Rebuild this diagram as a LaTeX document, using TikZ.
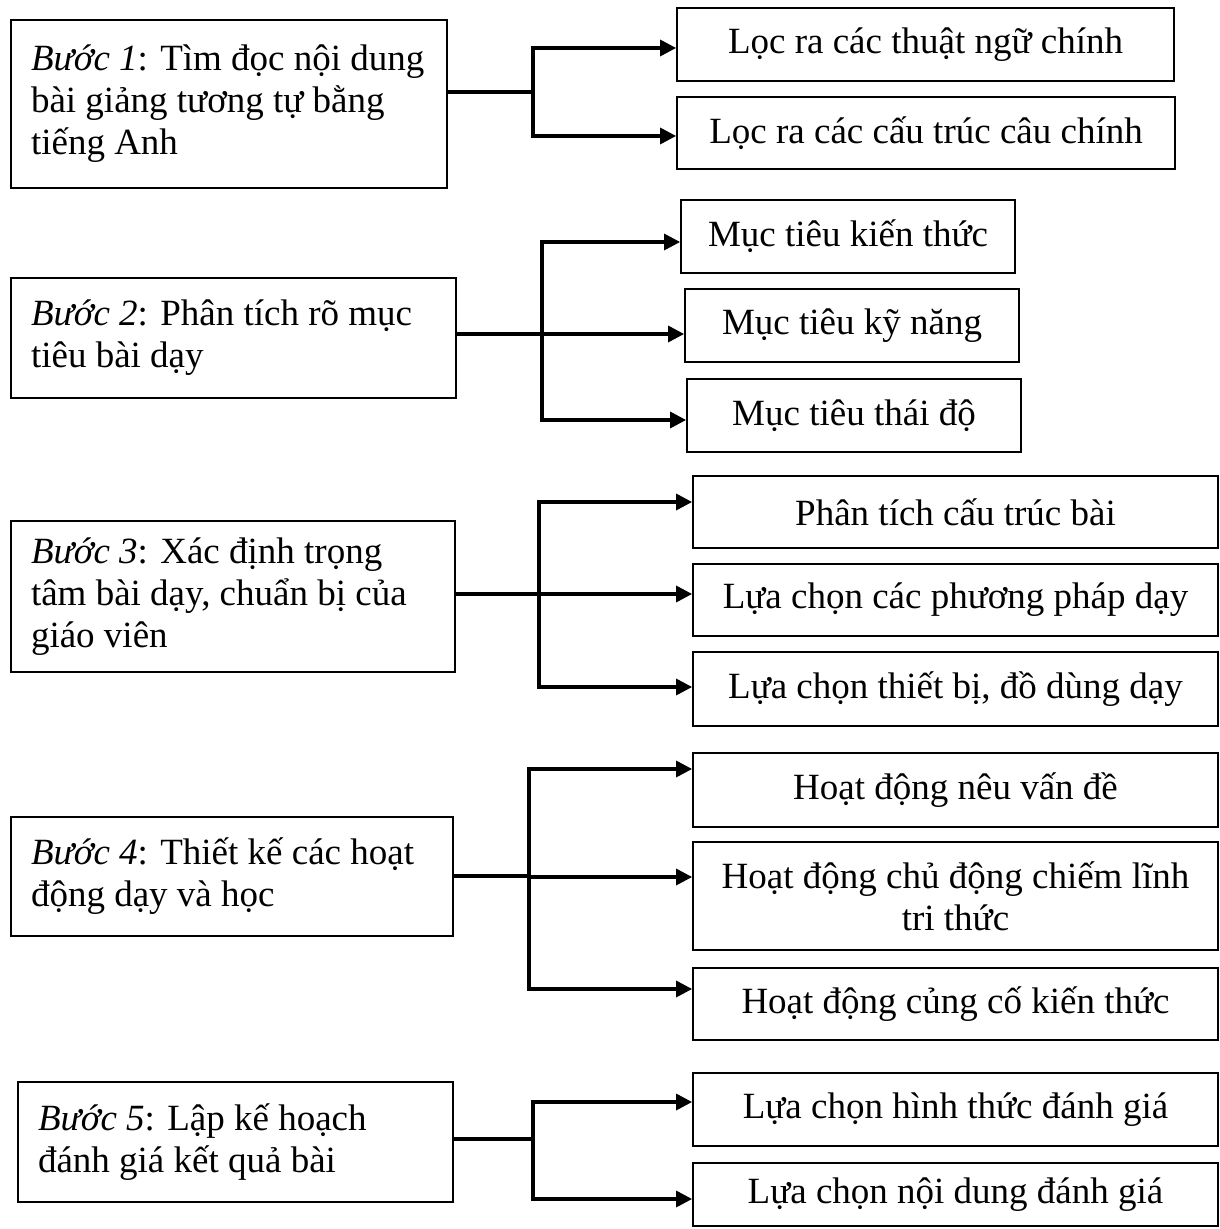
\documentclass[tikz,border=0pt]{standalone}
\usepackage{fontspec}
\setmainfont{Liberation Serif}
\usepackage{tikz}
\usetikzlibrary{arrows.meta}

\begin{document}
\begin{tikzpicture}[
	x=0.5pt, y=-0.5pt,
	StepBox/.style={draw, line width=0.9pt, inner xsep=10pt, inner ysep=0pt, align=flush left,
		font=\fontsize{18.5}{21}\selectfont},
	TaskBox/.style={draw, line width=0.9pt, inner sep=0pt, align=center,
		font=\fontsize{18.5}{21}\selectfont},
	Links/.style={line width=1.6pt, line cap=rect},
	Arrows/.style={line width=1.6pt, -{Triangle[length=8pt, width=8pt]}}
	]
	\useasboundingbox (0,0) rectangle (1219,1229);
	
	% left column: the five steps
	\node[StepBox, text width=198pt, minimum height=84pt] (s1) at (229,104)
	{\mbox{\textit{Bước 1}: Tìm đọc nội dung}\\ \mbox{bài giảng tương tự bằng}\\ tiếng Anh};
	\node[StepBox, text width=202.5pt, minimum height=60pt] (s2) at (233.5,338)
	{\mbox{\textit{Bước 2}: Phân tích rõ mục}\\ \mbox{tiêu bài dạy}};
	\node[StepBox, text width=202pt, minimum height=75.5pt] (s3) at (233,596.5)
	{\mbox{\textit{Bước 3}: Xác định trọng}\\ \mbox{tâm bài dạy, chuẩn bị của}\\ giáo viên};
	\node[StepBox, text width=201pt, minimum height=59.5pt] (s4) at (232,876.5)
	{\mbox{\textit{Bước 4}: Thiết kế các hoạt}\\ \mbox{động dạy và học}};
	\node[StepBox, text width=197.5pt, minimum height=60pt] (s5) at (235.5,1142)
	{\mbox{\textit{Bước 5}: Lập kế hoạch}\\ \mbox{đánh giá kết quả bài}};
	
	% right column
	\node[TaskBox, minimum width=248.5pt, minimum height=36.5pt] (r1a) at (925.5,44.5) {Lọc ra các thuật ngữ chính};
	\node[TaskBox, minimum width=249pt, minimum height=36pt] (r1b) at (926,133) {Lọc ra các cấu trúc câu chính};
	
	\node[TaskBox, minimum width=167pt, minimum height=36.5pt] (r2a) at (848,236.5) {Mục tiêu kiến thức};
	\node[TaskBox, minimum width=167pt, minimum height=36.5pt] (r2b) at (852,325.5) {Mục tiêu kỹ năng};
	\node[TaskBox, minimum width=167pt, minimum height=36.5pt] (r2c) at (854,415.5) {Mục tiêu thái độ};
	
	\node[TaskBox, minimum width=262.5pt, minimum height=36pt] (r3a) at (955.5,512) {Phân tích cấu trúc bài};
	\node[TaskBox, minimum width=262.5pt, minimum height=36pt] (r3b) at (955.5,600) {Lựa chọn các phương pháp dạy};
	\node[TaskBox, minimum width=262.5pt, minimum height=37pt] (r3c) at (955.5,689) {Lựa chọn thiết bị, đồ dùng dạy};
	
	\node[TaskBox, minimum width=262.5pt, minimum height=37pt] (r4a) at (955.5,790) {Hoạt động nêu vấn đề};
	\node[TaskBox, minimum width=262.5pt, minimum height=54pt] (r4b) at (955.5,896) {Hoạt động chủ động chiếm lĩnh\\ tri thức};
	\node[TaskBox, minimum width=262.5pt, minimum height=36pt] (r4c) at (955.5,1004) {Hoạt động củng cố kiến thức};
	
	\node[TaskBox, minimum width=262.5pt, minimum height=36.5pt] (r5a) at (955.5,1109.5) {Lựa chọn hình thức đánh giá};
	\node[TaskBox, minimum width=262.5pt, minimum height=31.5pt] (r5b) at (955.5,1194.5) {Lựa chọn nội dung đánh giá};
	
	% branch points
	\coordinate (J1) at (533,92);
	\coordinate (J1a) at (533,48);
	\coordinate (J1b) at (533,136);
	
	\coordinate (J2) at (542,334);
	\coordinate (J2a) at (542,242);
	\coordinate (J2b) at (542,334);
	\coordinate (J2c) at (542,420);
	
	\coordinate (J3) at (539,594);
	\coordinate (J3a) at (539,502);
	\coordinate (J3b) at (539,594);
	\coordinate (J3c) at (539,687);
	
	\coordinate (J4) at (529,876);
	\coordinate (J4a) at (529,769);
	\coordinate (J4b) at (529,877);
	\coordinate (J4c) at (529,989);
	
	\coordinate (J5) at (533,1139);
	\coordinate (J5a) at (533,1102);
	\coordinate (J5b) at (533,1199);
	
	% trunks and spines
	\foreach \s/\j/\t/\b in {s1/J1/J1a/J1b, s2/J2/J2a/J2c, s3/J3/J3a/J3c, s4/J4/J4a/J4c, s5/J5/J5a/J5b}
	{ \draw[Links] (\s.east |- \j) -- (\j);
	  \draw[Links] (\t) -- (\b);
	}
	
	% arrows to the tasks
	\foreach \j/\r in {J1a/r1a, J1b/r1b, J2a/r2a, J2b/r2b, J2c/r2c, J3a/r3a, J3b/r3b, J3c/r3c,
		J4a/r4a, J4b/r4b, J4c/r4c, J5a/r5a, J5b/r5b}
	{ \draw[Arrows] (\j) -- (\j -| \r.west);
	}
	
\end{tikzpicture}
\end{document}
